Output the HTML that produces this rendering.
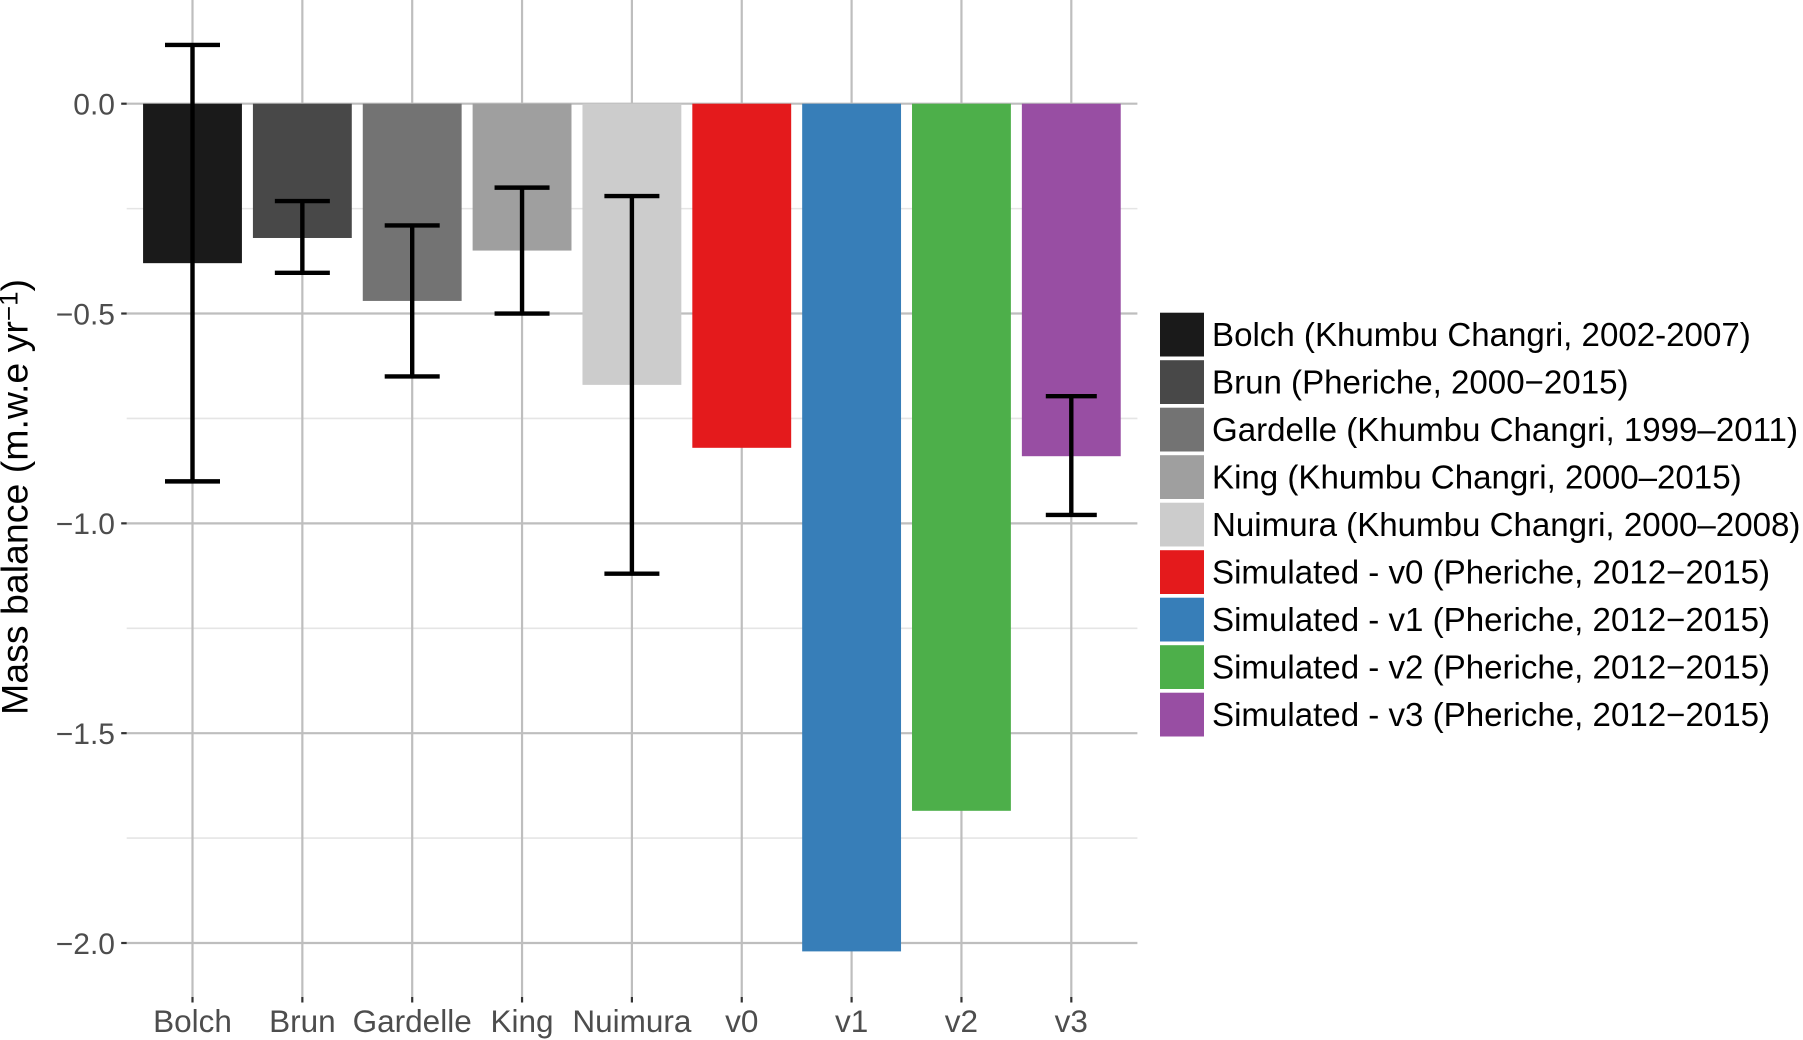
<!DOCTYPE html>
<html lang="en">
<head>
<meta charset="utf-8">
<title>Mass balance chart</title>
<style>
html,body{margin:0;padding:0;background:#fff;width:1803px;height:1040px;overflow:hidden}
svg{display:block}
text{font-family:"Liberation Sans",sans-serif}
</style>
</head>
<body>
<svg id="chart" width="1803" height="1040" viewBox="0 0 1803 1040" xmlns="http://www.w3.org/2000/svg">
  <text transform="translate(27.5 715) rotate(-90)" font-size="37.5" fill="#000">Mass balance (m.w.e yr<tspan dy="-10" font-size="26">−1</tspan><tspan dy="10">)</tspan></text>
  <g id="grid"></g>
  <g id="bars"></g>
  <g id="errors"></g>
  <g id="axes"></g>
  <g id="legend"></g>
</svg>
<script>
const categories = ["Bolch", "Brun", "Gardelle", "King", "Nuimura", "v0", "v1", "v2", "v3"];
const barValues = [-0.38, -0.32, -0.47, -0.35, -0.67, -0.82, -2.02, -1.685, -0.84];
const errorUpper = [0.14, -0.232, -0.29, -0.20, -0.22, null, null, null, -0.697];
const errorLower = [-0.90, -0.403, -0.65, -0.50, -1.12, null, null, null, -0.98];
const yMajorTicks = [0, -0.5, -1, -1.5, -2];
const yTickLabels = ["0.0", "−0.5", "−1.0", "−1.5", "−2.0"];
const yMinorTicks = [-0.25, -0.75, -1.25, -1.75];
const barColors = ["#1a1a1a", "#484848", "#737373", "#9f9f9f", "#cccccc", "#e41a1c", "#377eb8", "#4daf4a", "#984ea3"];
const legendLabels = [
  "Bolch (Khumbu Changri, 2002-2007)",
  "Brun (Pheriche, 2000−2015)",
  "Gardelle (Khumbu Changri, 1999–2011)",
  "King (Khumbu Changri, 2000–2015)",
  "Nuimura (Khumbu Changri, 2000–2008)",
  "Simulated - v0 (Pheriche, 2012−2015)",
  "Simulated - v1 (Pheriche, 2012−2015)",
  "Simulated - v2 (Pheriche, 2012−2015)",
  "Simulated - v3 (Pheriche, 2012−2015)"
];

const NS = "http://www.w3.org/2000/svg";
const panel = { left: 126.7, right: 1137.4, top: 0, bottom: 997 };
const xStep = 109.85;
const xFirst = 192.5;
const yZero = 103.7;
const yUnit = 419.65;
const barWidth = 0.9 * xStep;
const capWidthObserved = 55;
const capWidthSimulated = 51;
const firstSimulatedIndex = 5;

function xScale(i) { return xFirst + i * xStep; }
function yScale(v) { return yZero - v * yUnit; }

function mk(parent, tag, attrs, content) {
  const el = document.createElementNS(NS, tag);
  for (const k in attrs) el.setAttribute(k, attrs[k]);
  if (content !== undefined) el.textContent = content;
  parent.appendChild(el);
  return el;
}

const grid = document.getElementById("grid");
const bars = document.getElementById("bars");
const errors = document.getElementById("errors");
const axes = document.getElementById("axes");
const legend = document.getElementById("legend");

yMinorTicks.forEach(function (v) {
  const el = mk(grid, "line", { x1: panel.left, x2: panel.right, y1: yScale(v), y2: yScale(v), stroke: "#e5e5e5", "stroke-width": 1.6 });
  
  
});
yMajorTicks.forEach(function (v) {
  const el = mk(grid, "line", { x1: panel.left, x2: panel.right, y1: yScale(v), y2: yScale(v), stroke: "#bebebe", "stroke-width": 2.2 });
  
  
});
categories.forEach(function (c, i) {
  const el = mk(grid, "line", { x1: xScale(i), x2: xScale(i), y1: panel.top, y2: panel.bottom, stroke: "#bebebe", "stroke-width": 2.2 });
  
  
});

barValues.forEach(function (v, i) {
  const yTop = yScale(0);
  const yEnd = yScale(v);
  const el = mk(bars, "rect", { x: xScale(i) - barWidth / 2, y: Math.min(yTop, yEnd), width: barWidth, height: Math.abs(yEnd - yTop), fill: barColors[i] });
  
  
});

categories.forEach(function (c, i) {
  if (errorUpper[i] === null || errorLower[i] === null) return;
  const g = mk(errors, "g", { stroke: "#000", "stroke-width": 4.4 });
  
  
  const x = xScale(i);
  const cap = i >= firstSimulatedIndex ? capWidthSimulated : capWidthObserved;
  mk(g, "line", { x1: x, x2: x, y1: yScale(errorUpper[i]), y2: yScale(errorLower[i]) });
  mk(g, "line", { x1: x - cap / 2, x2: x + cap / 2, y1: yScale(errorUpper[i]), y2: yScale(errorUpper[i]) });
  mk(g, "line", { x1: x - cap / 2, x2: x + cap / 2, y1: yScale(errorLower[i]), y2: yScale(errorLower[i]) });
});

yMajorTicks.forEach(function (v, i) {
  const t = mk(axes, "line", { x1: panel.left - 5.5, x2: panel.left, y1: yScale(v), y2: yScale(v), stroke: "#333", "stroke-width": 2.2 });
  
  
  const l = mk(axes, "text", { x: 115, y: yScale(v) + 10.8, "text-anchor": "end", "font-size": 30, fill: "#4d4d4d" }, yTickLabels[i]);
  
  
});
categories.forEach(function (c, i) {
  const t = mk(axes, "line", { x1: xScale(i), x2: xScale(i), y1: panel.bottom, y2: panel.bottom + 5.5, stroke: "#333", "stroke-width": 2.2 });
  
  
  const l = mk(axes, "text", { x: xScale(i), y: 1032, "text-anchor": "middle", "font-size": 31.5, fill: "#4d4d4d" }, c);
  
  
});

legendLabels.forEach(function (label, i) {
  const g = mk(legend, "g", {});
  
  
  const cy = 334.6 + i * 47.5;
  const s = mk(g, "rect", { x: 1160, y: cy - 21.9, width: 44, height: 43.8, fill: barColors[i] });
  
  
  const t = mk(g, "text", { x: 1212, y: cy + 11.5, "font-size": 33.1, fill: "#000" }, label);
  
  
});
</script>
</body>
</html>
